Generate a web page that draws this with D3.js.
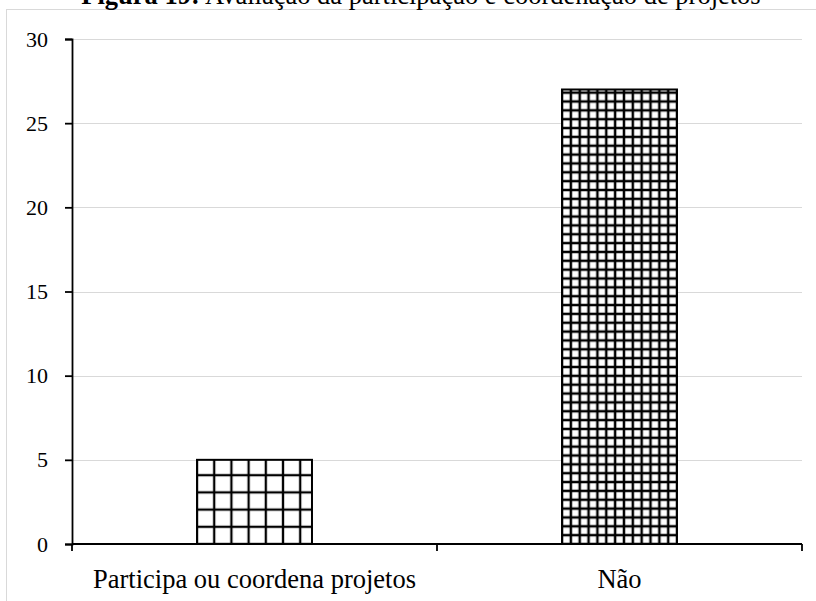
<!DOCTYPE html>
<html lang="pt">
<head>
    <meta charset="UTF-8">
    <title>Figura 19</title>
    <script src="https://d3js.org/d3.v7.min.js"></script>
    <style>
        body { margin: 0; background: #fff; }
        svg { display: block; font-family: "Times New Roman", "Liberation Serif", serif; }
    </style>
</head>
<body>
    <svg width="816" height="601"></svg>

    <script>
        // Chart data
        const categories = ["Participa ou coordena projetos", "Não"];
        const values = [5, 27];
        const yTicks = [0, 5, 10, 15, 20, 25, 30];

        const width = 816;
        const height = 601;
        const margin = {top: 39, right: 14, bottom: 57, left: 72};

        const svg = d3.select("svg")
            .attr("width", width)
            .attr("height", height);

        // Frame around the chart area
        svg.append("rect")
            .attr("x", 6.5)
            .attr("y", 9.5)
            .attr("width", 830)
            .attr("height", 620)
            .attr("fill", "none")
            .attr("stroke", "#d9d9d9")
            .attr("stroke-width", 1);

        const x = d3.scaleBand()
            .domain(categories)
            .range([margin.left, width - margin.right])
            .paddingInner(0.685)
            .paddingOuter(0.3425);

        const y = d3.scaleLinear()
            .domain([0, 30])
            .range([height - margin.bottom, margin.top]);

        // Gridlines
        svg.append("g")
            .selectAll("line")
            .data(yTicks.filter(d => d > 0))
            .enter()
            .append("line")
            .attr("x1", margin.left)
            .attr("x2", width - margin.right)
            .attr("y1", d => Math.round(y(d)) + 0.5)
            .attr("y2", d => Math.round(y(d)) + 0.5)
            .attr("stroke", "#d9d9d9")
            .attr("stroke-width", 1);

        // Hatch patterns (grid fill), anchored at each bar's bottom-left corner
        const cell = [17.2, 8.85];
        const lw = [1.15, 1.25];
        const defs = svg.append("defs");
        categories.forEach((c, i) => {
            const s = cell[i], w = lw[i];
            const p = defs.append("pattern")
                .attr("id", "grid" + i)
                .attr("patternUnits", "userSpaceOnUse")
                .attr("x", x(c))
                .attr("y", y(0))
                .attr("width", s)
                .attr("height", s);
            p.append("rect").attr("width", s).attr("height", s).attr("fill", "#fff");
            p.append("rect").attr("x", 0).attr("y", 0).attr("width", w).attr("height", s).attr("fill", "#000");
            p.append("rect").attr("x", s - w).attr("y", 0).attr("width", w).attr("height", s).attr("fill", "#000");
            p.append("rect").attr("x", 0).attr("y", 0).attr("width", s).attr("height", w).attr("fill", "#000");
            p.append("rect").attr("x", 0).attr("y", s - w).attr("width", s).attr("height", w).attr("fill", "#000");
        });

        // Bars
        svg.append("g")
            .selectAll("rect")
            .data(values)
            .enter()
            .append("rect")
            .attr("x", (d, i) => x(categories[i]))
            .attr("y", d => y(d))
            .attr("width", x.bandwidth())
            .attr("height", d => y(0) - y(d))
            .attr("fill", (d, i) => `url(#grid${i})`)
            .attr("stroke", "#000")
            .attr("stroke-width", 2);

        // Y axis
        const yAxis = svg.append("g")
            .attr("transform", `translate(${margin.left},0)`)
            .call(d3.axisLeft(y).tickValues(yTicks).tickSize(7).tickPadding(17));
        yAxis.select(".domain").attr("stroke", "#000").attr("stroke-width", 1.8);
        yAxis.selectAll(".tick line").attr("stroke", "#000").attr("stroke-width", 1.8);
        yAxis.selectAll("text")
            .attr("font-family", "'Times New Roman', 'Liberation Serif', serif")
            .attr("font-size", "22px")
            .attr("fill", "#000");

        // X axis with separators between categories
        const x0 = y(0);
        svg.append("line")
            .attr("x1", margin.left)
            .attr("x2", width - margin.right)
            .attr("y1", x0)
            .attr("y2", x0)
            .attr("stroke", "#000")
            .attr("stroke-width", 1.8);

        const seps = [margin.left, margin.left + x.step(), width - margin.right];
        svg.append("g")
            .selectAll("line")
            .data(seps)
            .enter()
            .append("line")
            .attr("x1", d => d)
            .attr("x2", d => d)
            .attr("y1", x0)
            .attr("y2", x0 + 7)
            .attr("stroke", "#000")
            .attr("stroke-width", 1.8);

        // Category labels
        svg.append("g")
            .selectAll("text")
            .data(categories)
            .enter()
            .append("text")
            .attr("x", d => x(d) + x.bandwidth() / 2)
            .attr("y", 588)
            .attr("text-anchor", "middle")
            .attr("font-size", "26.5px")
            .attr("fill", "#000")
            .text(d => d);

        // Title (cut off at the top edge)
        const title = svg.append("text")
            .attr("x", 421)
            .attr("y", 4)
            .attr("text-anchor", "middle")
            .attr("font-size", "26.5px")
            .attr("fill", "#000");
        title.append("tspan").attr("font-weight", "bold").text("Figura 19:");
        title.append("tspan").text(" Avaliação da participação e coordenação de projetos");
    </script>
</body>
</html>
